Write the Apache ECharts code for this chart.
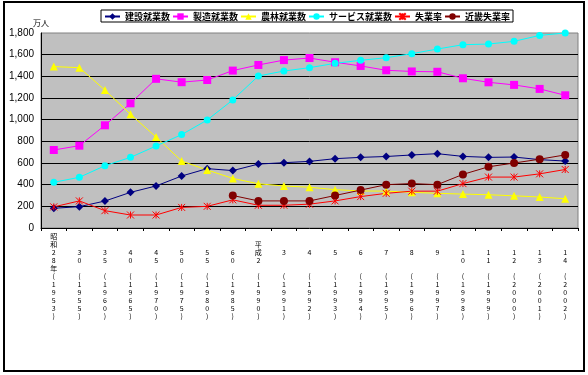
<!DOCTYPE html>
<html><head><meta charset="utf-8">
<script src="https://cdn.jsdelivr.net/npm/echarts@6/dist/echarts.min.js"></script>
<style>html,body{margin:0;padding:0;background:#fff}#c{width:588px;height:375px}</style>
</head><body><div id="c"></div>
<script>
const eraLabels = ["昭和28年","30","35","40","45","50","55","60","平成2","3","4","5","6","7","8","9","10","11","12","13","14"];
const yearLabels = ["(1953)","(1955)","(1960)","(1965)","(1970)","(1975)","(1980)","(1985)","(1990)","(1991)","(1992)","(1993)","(1994)","(1995)","(1996)","(1997)","(1998)","(1999)","(2000)","(2001)","(2002)"];
const construction = [182,197,249,329,388,480,548,530,590,603,615,640,652,660,674,686,661,652,655,631,618];
const manufacturing = [720,760,948,1151,1377,1346,1366,1453,1505,1550,1569,1530,1496,1456,1445,1442,1382,1345,1321,1284,1225];
const agriculture = [1490,1480,1273,1050,840,618,535,458,408,388,376,354,342,340,330,320,313,307,297,286,270];
const services = [422,468,575,652,757,862,997,1182,1403,1449,1480,1520,1548,1572,1609,1652,1692,1698,1723,1778,1800];
const unemployment = [195,250,160,120,120,190,200,260,210,210,220,250,290,320,340,340,410,470,470,500,540];
const kinkiUnemployment = [null,null,null,null,null,null,null,300,250,250,250,300,350,400,410,400,495,565,600,635,675];
const seriesNames = ["建設就業数","製造就業数","農林就業数","サービス就業数","失業率","近畿失業率"];
const yTicks = {min:0, max:1800, interval:200};

const categories = eraLabels.map((e,i)=>i);
function verticalLabel(i){
  const era = Array.from(eraLabels[i]);
  const pad = Math.floor((5 - era.length)/2 + 0.5);
  const lines = [];
  for(let k=0;k<pad;k++) lines.push(' ');
  era.forEach(c=>lines.push(c));
  while(lines.length<5) lines.push(' ');
  Array.from(yearLabels[i]).forEach(c=>lines.push(c));
  return lines.join('\n');
}
const star = 'path://M0,0L10,10M10,0L0,10M5,0L5,10';
const chart = echarts.init(document.getElementById('c'), null, {renderer:'canvas'});
function mk(name, data, color, symbol, size, extra){
  return Object.assign({
    name, type:'line', data, symbol, symbolSize:size, showSymbol:true,
    lineStyle:{color, width:1}, itemStyle:{color, borderColor:color, borderWidth:0},
    emphasis:{disabled:true}, animation:false, connectNulls:false, clip:false
  }, extra||{});
}
chart.setOption({
  backgroundColor:'#fff',
  animation:false,
  textStyle:{fontFamily:'"Noto Sans CJK JP", "Liberation Sans", sans-serif'},
  graphic:[
    {type:'rect', shape:{x:4,y:2,width:580,height:369}, style:{fill:'none', stroke:'#000', lineWidth:2}, z:-1},
    {type:'text', left:33, top:19, style:{text:'万人', fontSize:8, fill:'#000', fontFamily:'"Noto Sans CJK JP", sans-serif'}}
  ],
  legend:{
    data:seriesNames, left:101, top:10, orient:'horizontal',
    borderColor:'#000', borderWidth:1, padding:[2,3,1,3],
    itemWidth:15, itemHeight:8, itemGap:2,
    textStyle:{fontSize:9, color:'#000', fontWeight:'bold', fontFamily:'"Noto Sans CJK JP", sans-serif'}
  },
  grid:{left:41, right:10, top:33, bottom:147, show:true, backgroundColor:'#C0C0C0', borderColor:'#808080', borderWidth:1},
  xAxis:{
    type:'category', data:categories, boundaryGap:true,
    axisLine:{lineStyle:{color:'#000', width:1}},
    axisTick:{show:true, inside:false, length:3, lineStyle:{color:'#000'}},
    axisLabel:{interval:0, formatter:(v)=>verticalLabel(+v), fontSize:7, lineHeight:8, margin:4, color:'#000', verticalAlign:'top', fontFamily:'"Noto Sans CJK JP", sans-serif'},
    splitLine:{show:false}
  },
  yAxis:{
    type:'value', min:yTicks.min, max:yTicks.max, interval:yTicks.interval,
    axisLine:{show:true, lineStyle:{color:'#000', width:1}},
    axisTick:{show:false},
    axisLabel:{fontSize:10, color:'#000', margin:7, fontFamily:'"Liberation Sans", Arial, sans-serif', formatter:(v)=>v.toLocaleString('en-US')},
    splitLine:{show:true, showMaxLine:false, showMinLine:false, lineStyle:{color:'#000', width:1}}
  },
  series:[
    mk(seriesNames[0], construction, '#000080', 'diamond', 8),
    mk(seriesNames[1], manufacturing, '#FF00FF', 'rect', 8),
    mk(seriesNames[2], agriculture, '#FFFF00', 'triangle', 8),
    mk(seriesNames[3], services, '#00FFFF', 'circle', 7),
    mk(seriesNames[4], unemployment, '#FF0000', star, 7, {itemStyle:{color:'#FF0000', borderColor:'#FF0000', borderWidth:1}}),
    mk(seriesNames[5], kinkiUnemployment, '#800000', 'circle', 8)
  ]
});
</script></body></html>
